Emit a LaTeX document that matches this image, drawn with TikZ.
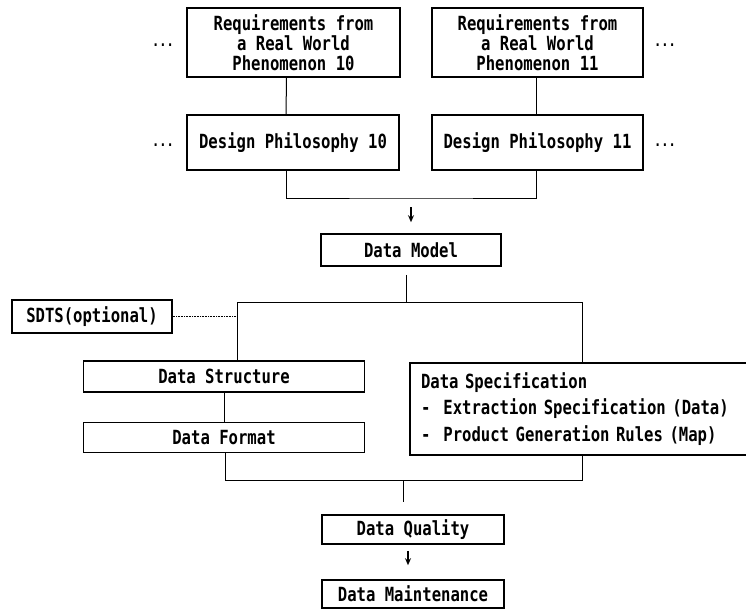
\documentclass[tikz,border=0pt]{standalone}
\usepackage{fontspec}
\usetikzlibrary{arrows.meta,calc}
\newfontfamily\monofnt[FakeStretch=0.8]{DejaVu Sans Mono}
\begin{document}
\begin{tikzpicture}[x=1pt,y=-1pt,
  txt/.style={font=\monofnt\bfseries\fontsize{19.5}{20}\selectfont},
  box/.style={txt,draw,line width=1.6pt,inner sep=0pt,align=center},
  conn/.style={line width=1pt},
  arr/.style={line width=1.2pt,-{Stealth[length=7pt,width=6pt]}},
  dots/.style={font=\monofnt\bfseries\fontsize{15}{16}\selectfont}]
\path[use as bounding box] (0,0) rectangle (746,613);

% top row
\node[box,minimum width=213,minimum height=69] (req10) at (293.5,42.5)
  {Requirements from\\a Real World\\Phenomenon 10};
\node[box,minimum width=211,minimum height=69] (req11) at (537.5,42.5)
  {Requirements from\\a Real World\\Phenomenon 11};
\node[box,minimum width=212,minimum height=55] (dp10) at (293,142.5) {Design Philosophy 10};
\node[box,minimum width=211,minimum height=55] (dp11) at (537.5,142.5) {Design Philosophy 11};
\node[dots] (d1) at (163,45) {...};
\node[dots] (d2) at (665,45) {...};
\node[dots] (d3) at (163,145) {...};
\node[dots] (d4) at (665,145) {...};

\draw[conn] ([xshift=-7pt]req10.south) -- ([xshift=-7pt]dp10.north);
\draw[conn] ([xshift=-1.5pt]req11.south) -- ([xshift=-1.5pt]dp11.north);
\coordinate (bt) at (411,198);
\draw[conn] ([xshift=-7pt]dp10.south) |- (bt) -| ([xshift=-1.5pt]dp11.south);

% data model
\node[box,minimum width=180,minimum height=32] (dm) at (411,250) {Data Model};
\coordinate (a1) at (411,207);
\draw[arr] (a1) -- (dm.north) [shorten >=11pt];

% split
\coordinate (jl) at (237,302);
\coordinate (jm) at (406,302);
\coordinate (jr) at (582,302);
\draw[conn,shorten <=8pt] (dm.south -| jm) -- (jm);
\draw[conn] (jl) -- (jr);

\node[box,minimum width=160,minimum height=33] (sdts) at (92,316.5) {SDTS(optional)};
\draw[line width=0.6pt,densely dotted] (sdts.east) -- (sdts.east -| jl);

\node[box,minimum width=281,minimum height=31] (ds) at (224,376.5) {Data Structure};
\node[box,minimum width=281,minimum height=30] (df) at (224,437.5) {Data Format};
\node[box,minimum height=92,text width=320,inner xsep=11pt,align=left,
      font=\monofnt\bfseries\fontsize{19.5}{26.5}\selectfont] (spec) at (581,409)
  {Data Specification\\
   -\ \ Extraction Specification (Data)\\
   -\ \ Product Generation Rules (Map)};

\draw[conn] (jl) -- (jl |- ds.north);
\draw[conn] (jr) -- (jr |- spec.north);
\draw[conn] (ds) -- (df);

% merge
\coordinate (bl) at (225,480);
\coordinate (bm) at (403,480);
\coordinate (br) at (582,480);
\draw[conn] ([xshift=1pt]df.south) -- (bl) -- (br) -- (br |- spec.south);

\node[box,minimum width=182,minimum height=29] (dq) at (413,529.5) {Data Quality};
\node[box,minimum width=182,minimum height=28] (dmt) at (413,594) {Data Maintenance};
\draw[conn,shorten >=12pt] (bm) -- (bm |- dq.north);
\draw[arr,shorten <=6pt,shorten >=14pt] ([xshift=-5pt]dq.south) -- ([xshift=-5pt]dmt.north);
\end{tikzpicture}
\end{document}
